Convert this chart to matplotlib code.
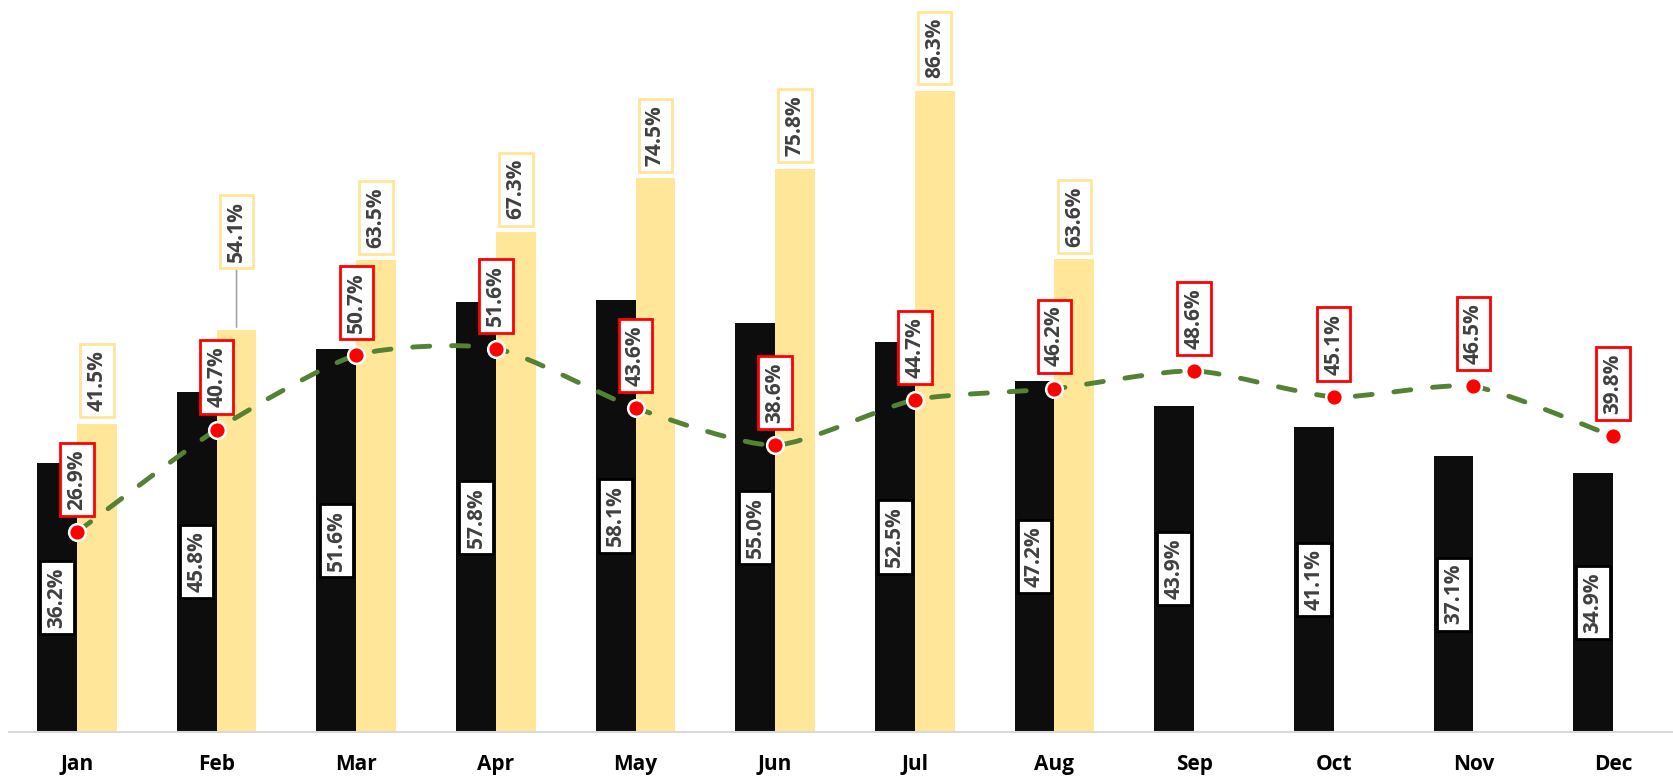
import numpy as np
import matplotlib.pyplot as plt
from matplotlib.path import Path
from matplotlib.patches import PathPatch

months = ["Jan", "Feb", "Mar", "Apr", "May", "Jun", "Jul", "Aug", "Sep", "Oct", "Nov", "Dec"]
black_vals = [36.2, 45.8, 51.6, 57.8, 58.1, 55.0, 52.5, 47.2, 43.9, 41.1, 37.1, 34.9]
yellow_vals = [41.5, 54.1, 63.5, 67.3, 74.5, 75.8, 86.3, 63.6]   # Jan..Aug only
line_vals = [26.9, 40.7, 50.7, 51.6, 43.6, 38.6, 44.7, 46.2, 48.6, 45.1, 46.5, 39.8]

BLACK = "#0D0D0D"
YELLOW = "#FFE699"
GREEN = "#548235"
RED = "#FF0000"
TXT = "#404040"

plt.rcParams['font.family'] = ['Open Sans', 'DejaVu Sans']

fig = plt.figure(figsize=(16.74, 7.77), dpi=100)
ax = fig.add_axes([9 / 1674, 45 / 777, 1 - 9 / 1674, 732 / 777])

x = np.arange(len(months))
w = 0.285
ax.bar(x - w / 2, black_vals, width=w, color=BLACK, zorder=2)
ax.bar(x[:len(yellow_vals)] + w / 2, yellow_vals, width=w, color=YELLOW, zorder=2)

# smoothed line (bezier through the points, like Excel's smoothed line)
pts = np.column_stack([x, line_vals]).astype(float)
verts = [pts[0]]
codes = [Path.MOVETO]
n = len(pts)
k = 1 / 9
for i in range(n - 1):
    p0 = pts[max(i - 1, 0)]
    p1 = pts[i]
    p2 = pts[i + 1]
    p3 = pts[min(i + 2, n - 1)]
    c1 = p1 + (p2 - p0) * k
    c2 = p2 - (p3 - p1) * k
    verts += [c1, c2, p2]
    codes += [Path.CURVE4] * 3
patch = PathPatch(Path(verts, codes), fill=False, edgecolor=GREEN, lw=3.5,
                  linestyle=(0, (3.5, 4.5)), capstyle='round', zorder=3)
ax.add_patch(patch)
ax.plot(x, line_vals, 'o', color=RED, markersize=12, markeredgecolor='white',
        markeredgewidth=1.8, zorder=4)

lab = dict(rotation=90, fontsize=15, fontweight='bold', color=TXT, ha='center')

for xi, v in zip(x, black_vals):
    ax.text(xi - w / 2, v / 2, f"{v:.1f}%", va='center', zorder=5,
            bbox=dict(boxstyle='square,pad=0.3', fc='white', ec='black', lw=2), **lab)

lift = {1: 40}  # Feb label pulled up with a leader line
for i, v in enumerate(yellow_vals):
    off = 9 + lift.get(i, 0)
    ax.annotate(f"{v:.1f}%", xy=(x[i] + w / 2, v), xytext=(0, off), textcoords='offset points',
                va='bottom', zorder=5,
                bbox=dict(boxstyle='square,pad=0.3', fc='white', ec=YELLOW, lw=2), **lab)
    if i in lift:
        ax.annotate("", xy=(x[i] + w / 2, v), xytext=(0, off + 3), textcoords='offset points',
                    arrowprops=dict(arrowstyle='-', color='#A6A6A6', lw=1.2), zorder=1)

for xi, v in zip(x, line_vals):
    ax.annotate(f"{v:.1f}%", xy=(xi, v), xytext=(0, 16), textcoords='offset points',
                va='bottom', zorder=6,
                bbox=dict(boxstyle='square,pad=0.3', fc='white', ec=RED, lw=2), **lab)

ax.set_xlim(-0.487, 11.437)
ax.set_ylim(0, 98.5)
ax.set_xticks(x)
ax.set_xticklabels(months, fontsize=15, fontweight='bold', color='black')
ax.tick_params(axis='x', length=0, pad=16)
ax.set_yticks([])
for s in ['top', 'right', 'left']:
    ax.spines[s].set_visible(False)
ax.spines['bottom'].set_color('#D9D9D9')
ax.spines['bottom'].set_linewidth(1.5)
ax.spines['bottom'].set_zorder(3)

fig.savefig("out.png", dpi=100)
